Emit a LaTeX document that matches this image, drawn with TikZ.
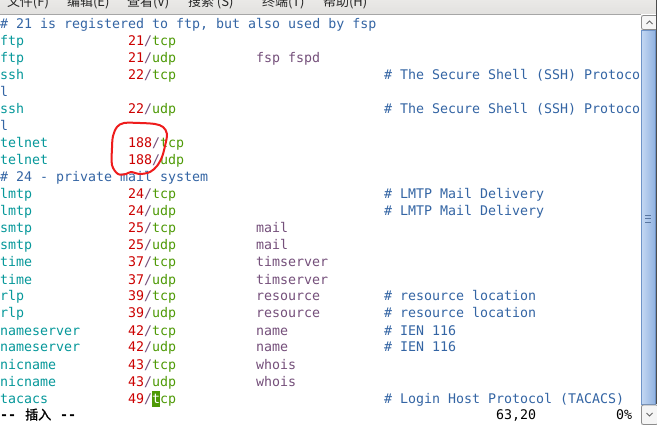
\documentclass[tikz,border=0pt]{standalone}
\usepackage{fontspec}
\setmonofont{DejaVu Sans Mono}
\newfontfamily\cjk{Noto Sans CJK SC}
\newfontfamily\cjkb[FakeBold=1.5]{Noto Sans CJK SC}
\definecolor{tcyan}{HTML}{06989A}
\definecolor{tred}{HTML}{CC0000}
\definecolor{tmag}{HTML}{75507B}
\definecolor{tgreen}{HTML}{4E9A06}
\definecolor{tblue}{HTML}{3465A4}
\definecolor{menubg}{HTML}{EAE9E7}
\definecolor{menubg2}{HTML}{E2E1DF}
\definecolor{thumbA}{HTML}{C3D7F2}
\definecolor{thumbB}{HTML}{8FB1E0}
\definecolor{thumbE}{HTML}{6F94C8}
\definecolor{circred}{HTML}{EE1C1C}
\newcommand\pp[2]{\textcolor{tred}{#1}\textcolor{tmag}{/}\textcolor{tgreen}{#2}}
\tikzset{
  txt/.style={anchor=base west, inner sep=0pt, outer sep=0pt, font=\ttfamily\fontsize{13.3}{17}\selectfont},
  svc/.style={txt, text=tcyan},
  cmt/.style={txt, text=tblue},
  ali/.style={txt, text=tmag},
  prt/.style={txt},
  stat/.style={txt, text=black},
  menu/.style={anchor=base west, inner sep=0pt, outer sep=0pt, text=black!85, font=\cjk\fontsize{13}{15}\selectfont},
  sbtn/.style={fill=black!4, draw=black!45, line width=0.8pt, rounded corners=2pt},
  chev/.style={draw=black!60, line width=0.9pt},
}
\begin{document}
\begin{tikzpicture}[x=1pt,y=1pt]
\useasboundingbox (0,0) rectangle (657,-425);
\clip (0,0) rectangle (657,-425);
\fill[white] (0,0) rectangle (657,-425);
% menu bar
\fill[top color=menubg, bottom color=menubg2] (0,0) rectangle (657,-14);
\draw[black!35, line width=1pt] (0,-14.5) -- (641,-14.5);
\node[menu] (m1) at (7,-6.5) {文件(F)};
\node[menu] (m2) at (67,-6.5) {编辑(E)};
\node[menu] (m3) at (127,-6.5) {查看(V)};
\node[menu] (m4) at (188,-6.5) {搜索 (S)};
\node[menu] (m5) at (262,-6.5) {终端(T)};
\node[menu] (m6) at (323,-6.5) {帮助(H)};
\begin{scope}[yshift=-1pt]
% lines
\node[cmt] (c0) at (0,-28) {\# 21 is registered to ftp, but also used by fsp};
\node[svc] (n1) at (0,-45) {ftp};      \node[prt] (p1) at (128,-45) {\pp{21}{tcp}};
\node[svc] (n2) at (0,-62) {ftp};      \node[prt] (p2) at (128,-62) {\pp{21}{udp}};
\node[ali] (a2) at (256,-62) {fsp fspd};
\node[svc] (n3) at (0,-79) {ssh};      \node[prt] (p3) at (128,-79) {\pp{22}{tcp}};
\node[cmt] (c3) at (384,-79) {\# The Secure Shell (SSH) Protoco};
\node[cmt] (c4) at (0,-96) {l};
\node[svc] (n5) at (0,-113) {ssh};     \node[prt] (p5) at (128,-113) {\pp{22}{udp}};
\node[cmt] (c5) at (384,-113) {\# The Secure Shell (SSH) Protoco};
\node[cmt] (c6) at (0,-130) {l};
\node[svc] (n7) at (0,-147) {telnet};  \node[prt] (p7) at (128,-147) {\pp{188}{tcp}};
\node[svc] (n8) at (0,-164) {telnet};  \node[prt] (p8) at (128,-164) {\pp{188}{udp}};
\node[cmt] (c9) at (0,-181) {\# 24 - private mail system};
\node[svc] (n10) at (0,-198) {lmtp};   \node[prt] (p10) at (128,-198) {\pp{24}{tcp}};
\node[cmt] (c10) at (384,-198) {\# LMTP Mail Delivery};
\node[svc] (n11) at (0,-215) {lmtp};   \node[prt] (p11) at (128,-215) {\pp{24}{udp}};
\node[cmt] (c11) at (384,-215) {\# LMTP Mail Delivery};
\node[svc] (n12) at (0,-232) {smtp};   \node[prt] (p12) at (128,-232) {\pp{25}{tcp}};
\node[ali] (a12) at (256,-232) {mail};
\node[svc] (n13) at (0,-249) {smtp};   \node[prt] (p13) at (128,-249) {\pp{25}{udp}};
\node[ali] (a13) at (256,-249) {mail};
\node[svc] (n14) at (0,-266) {time};   \node[prt] (p14) at (128,-266) {\pp{37}{tcp}};
\node[ali] (a14) at (256,-266) {timserver};
\node[svc] (n15) at (0,-283) {time};   \node[prt] (p15) at (128,-283) {\pp{37}{udp}};
\node[ali] (a15) at (256,-283) {timserver};
\node[svc] (n16) at (0,-300) {rlp};    \node[prt] (p16) at (128,-300) {\pp{39}{tcp}};
\node[ali] (a16) at (256,-300) {resource};
\node[cmt] (c16) at (384,-300) {\# resource location};
\node[svc] (n17) at (0,-317) {rlp};    \node[prt] (p17) at (128,-317) {\pp{39}{udp}};
\node[ali] (a17) at (256,-317) {resource};
\node[cmt] (c17) at (384,-317) {\# resource location};
\node[svc] (n18) at (0,-334) {nameserver}; \node[prt] (p18) at (128,-334) {\pp{42}{tcp}};
\node[ali] (a18) at (256,-334) {name};
\node[cmt] (c18) at (384,-334) {\# IEN 116};
\node[svc] (n19) at (0,-351) {nameserver}; \node[prt] (p19) at (128,-351) {\pp{42}{udp}};
\node[ali] (a19) at (256,-351) {name};
\node[cmt] (c19) at (384,-351) {\# IEN 116};
\node[svc] (n20) at (0,-368) {nicname}; \node[prt] (p20) at (128,-368) {\pp{43}{tcp}};
\node[ali] (a20) at (256,-368) {whois};
\node[svc] (n21) at (0,-385) {nicname}; \node[prt] (p21) at (128,-385) {\pp{43}{udp}};
\node[ali] (a21) at (256,-385) {whois};
\node[svc] (n22) at (0,-402) {tacacs};  \node[prt] (p22) at (128,-402) {\pp{49}{}};
\node[txt, text=tgreen] (p22b) at (160,-402) {cp};
\node[cmt] (c22) at (384,-402) {\# Login Host Protocol (TACACS)};
% cursor
\fill[tgreen] (152,-390) rectangle (160,-406);
\node[txt, text=white] (cur) at (152,-402) {t};
% status line
\node[stat] (s1) at (0,-418.5) {\bfseries --};
\node[anchor=base west, inner sep=0pt, text=black, font=\cjkb\fontsize{13}{15}\selectfont] (s2) at (25,-418.5) {插入};
\node[stat] (s3) at (60,-418.5) {\bfseries --};
\node[stat] (s4) at (496,-418.5) {63,20};
\node[stat] (s5) at (616,-418.5) {0\%};
\end{scope}
% red hand-drawn circle
\draw[circred, line width=2pt, line join=round]
  plot[smooth cycle, tension=0.55] coordinates {
   (112,-165) (112,-148) (113,-136) (117,-127) (124,-123) (140,-123) (155,-124)
   (163,-127) (167,-134) (165,-146) (162,-157) (157,-166) (150,-172) (140,-174)
   (131,-172) (126,-174) (118,-174) };
% scrollbar
\fill[black!8] (641,-15) rectangle (657,-425);
\draw[sbtn] (641.5,-15.5) rectangle (658,-29.5);
\draw[chev] (646.5,-24) -- (649.5,-21) -- (652.5,-24);
\draw[left color=thumbA, right color=thumbB, draw=thumbE, line width=0.8pt] (641.5,-30.5) rectangle (655.5,-404);
\draw[thumbE!80!black, line width=0.8pt] (645,-215) -- (650.5,-215) (645,-218.5) -- (650.5,-218.5) (645,-222) -- (650.5,-222);
\draw[sbtn] (641.5,-405) rectangle (658,-424.5);
\draw[chev] (646.5,-413) -- (649.5,-416) -- (652.5,-413);
\draw[black!70, line width=1.2pt] (656.4,0) -- (656.4,-404);
\end{tikzpicture}
\end{document}
